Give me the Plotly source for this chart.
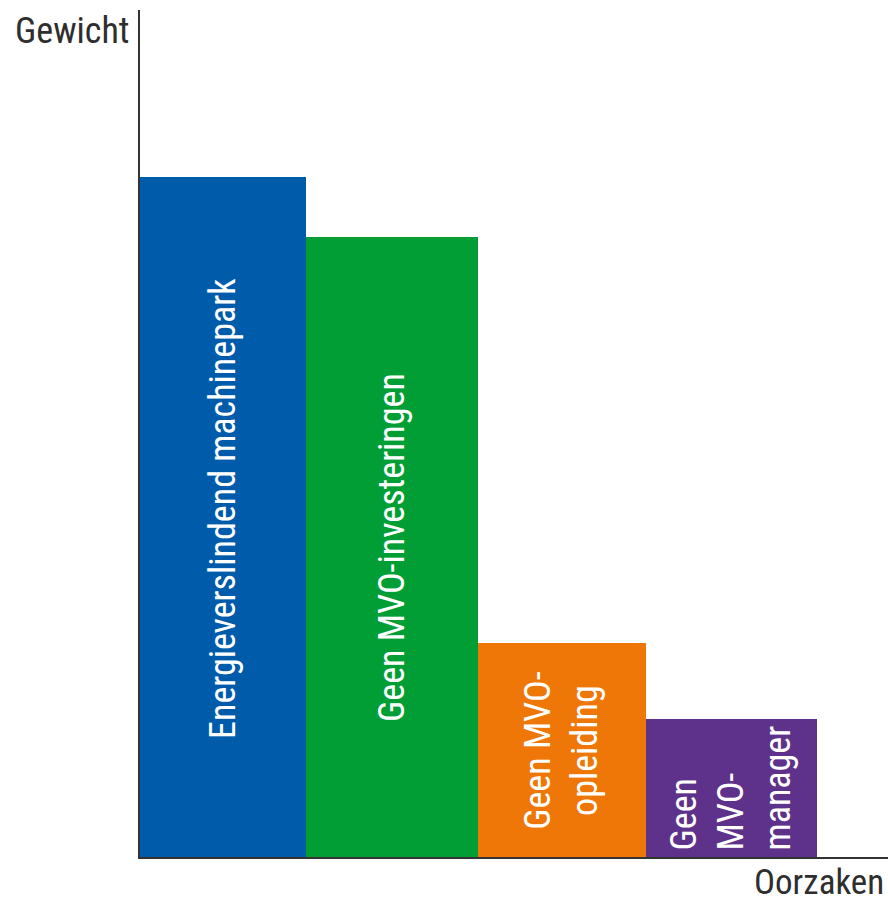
import plotly.graph_objects as go

categories = ["Energieverslindend machinepark", "Geen MVO-investeringen", "Geen MVO-opleiding", "Geen MVO-manager"]
labels = ["Energieverslindend machinepark", "Geen MVO-investeringen", "Geen MVO-<br>opleiding", "Geen<br>MVO-<br>manager"]
values = [80.3, 73.2, 25.3, 16.3]
colors = ["#005BAA", "#009E35", "#EE7708", "#5E318A"]
y_title = "Gewicht"
x_title = "Oorzaken"

# bar edges on the x axis (layout only)
edges = [0, 0.981, 1.997, 2.990, 4.0]
positions = [(a + b) / 2 for a, b in zip(edges[:-1], edges[1:])]
widths = [b - a for a, b in zip(edges[:-1], edges[1:])]
aligns = ["center", "center", "center", "left"]
yshifts = [8, 0, 0, 0]

FONT = "Roboto Condensed, Liberation Sans Narrow, sans-serif"
INK = "#2e2e2e"

fig = go.Figure()
fig.add_trace(go.Bar(
    x=positions, y=values, width=widths,
    marker=dict(color=colors, line=dict(width=0)),
    hoverinfo="skip", text=categories, textposition="none",
))

for p, v, lab, al, ys in zip(positions, values, labels, aligns, yshifts):
    fig.add_annotation(x=p, y=v / 2, xref="x", yref="y", text=lab, showarrow=False,
                       textangle=-90, align=al, yshift=ys,
                       font=dict(family=FONT, size=36, color="white"))

fig.add_annotation(x=0, y=1, xref="paper", yref="paper", xanchor="right", yanchor="top",
                   xshift=-9, yshift=2, text=y_title, showarrow=False,
                   font=dict(family=FONT, size=36, color=INK))
fig.add_annotation(x=1, y=0, xref="paper", yref="paper", xanchor="right", yanchor="top",
                   xshift=-2, yshift=-3, text=x_title, showarrow=False,
                   font=dict(family=FONT, size=35, color=INK))

fig.update_layout(
    width=888, height=903,
    margin=dict(l=140, r=0, t=10, b=46),
    paper_bgcolor="white", plot_bgcolor="white",
    showlegend=False, bargap=0,
    xaxis=dict(range=[0, 4.42], showgrid=False, zeroline=False, showticklabels=False,
               showline=True, linecolor="#333333", linewidth=2, ticks=""),
    yaxis=dict(range=[0, 100], showgrid=False, zeroline=False, showticklabels=False,
               showline=True, linecolor="#333333", linewidth=2, ticks=""),
)

fig.write_html("out.html", config={"displayModeBar": False},
               post_script="document.body.style.margin='0';document.body.style.overflow='hidden';")
